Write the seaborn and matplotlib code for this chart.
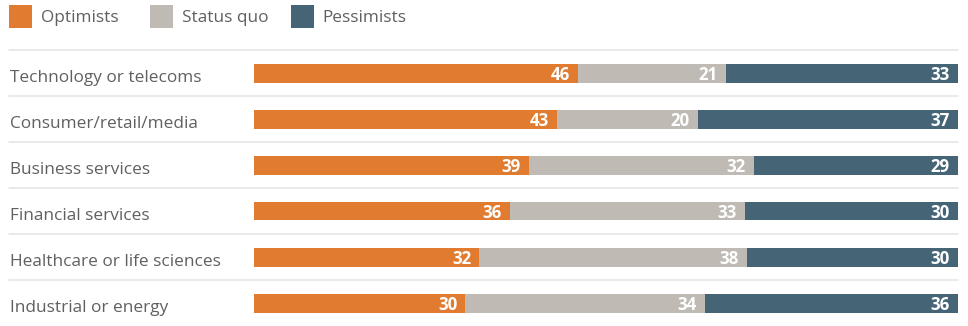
import matplotlib
matplotlib.use("Agg")
import matplotlib.pyplot as plt
import matplotlib.transforms as mtransforms
from matplotlib.patches import Rectangle
from matplotlib.lines import Line2D
import numpy as np
import pandas as pd
import seaborn as sns

# Survey outlook by sector (% of respondents)
sectors = [
    "Technology or telecoms",
    "Consumer/retail/media",
    "Business services",
    "Financial services",
    "Healthcare or life sciences",
    "Industrial or energy",
]
optimists = [46, 43, 39, 36, 32, 30]
status_quo = [21, 20, 32, 33, 38, 34]
pessimists = [33, 37, 29, 30, 30, 36]

series_names = ["Optimists", "Status quo", "Pessimists"]
colors = ["#E07B2F", "#BFBBB4", "#456577"]
text_gray = "#606060"
rule_gray = "#E3E3E3"

sns.set_theme(style="white")
plt.rcParams["font.family"] = ["Open Sans", "DejaVu Sans"]

df = pd.DataFrame({
    "sector": sectors,
    "Optimists": optimists,
    "Status quo": status_quo,
    "Pessimists": pessimists,
})
# 100% stacked: each row is scaled by its own total (rounded values)
totals = df[series_names].sum(axis=1)
shares = df[series_names].div(totals, axis=0) * 100
cum = shares.cumsum(axis=1)

W, H, DPI = 968, 326, 100
fig = plt.figure(figsize=(W / DPI, H / DPI), dpi=DPI)

left_px, right_px = 254, 958
top_px, bottom_px = 50, 326
ax = fig.add_axes([left_px / W, 1 - bottom_px / H,
                   (right_px - left_px) / W, (bottom_px - top_px) / H])

# Draw the stack from the longest cumulative segment down
for name, color in reversed(list(zip(series_names, colors))):
    sns.barplot(x=cum[name].values, y=df["sector"], orient="h", color=color,
                width=19 / 46, linewidth=0, saturation=1, ax=ax)

ax.set_xlim(0, 100)
ax.set_ylim(5.5, -0.5)
ax.set_axis_off()

# Value labels, right aligned inside each segment
pad = mtransforms.ScaledTranslation(-8 / DPI, 0, fig.dpi_scale_trans)
for i in range(len(sectors)):
    for name in series_names:
        ax.text(cum[name].iloc[i], i, f"{df[name].iloc[i]}",
                transform=ax.transData + pad,
                ha="right", va="center_baseline", color="white",
                fontsize=12.2, fontweight="bold")

# Sector labels and row separators
blend = mtransforms.blended_transform_factory(fig.transFigure, ax.transData)
label_shift = mtransforms.ScaledTranslation(0, -2.5 / DPI, fig.dpi_scale_trans)
for i, s in enumerate(sectors):
    fig.text(10 / W, i, s, transform=blend + label_shift, ha="left",
             va="center_baseline", color=text_gray, fontsize=12.4)
for i in range(len(sectors)):
    fig.add_artist(Line2D([9 / W, right_px / W], [i - 0.5, i - 0.5],
                          transform=blend, color=rule_gray, linewidth=1.1))

# Legend
legend_items = [(9, 41), (150, 182), (291, 322)]
for (sx, tx), name, color in zip(legend_items, series_names, colors):
    fig.add_artist(Rectangle((sx / W, 1 - 28 / H), 23 / W, 23 / H,
                             transform=fig.transFigure, facecolor=color,
                             edgecolor="none"))
    fig.text(tx / W, 1 - 16.5 / H, name, ha="left", va="center_baseline",
             color=text_gray, fontsize=12.4)

fig.savefig("out.png", dpi=DPI)
